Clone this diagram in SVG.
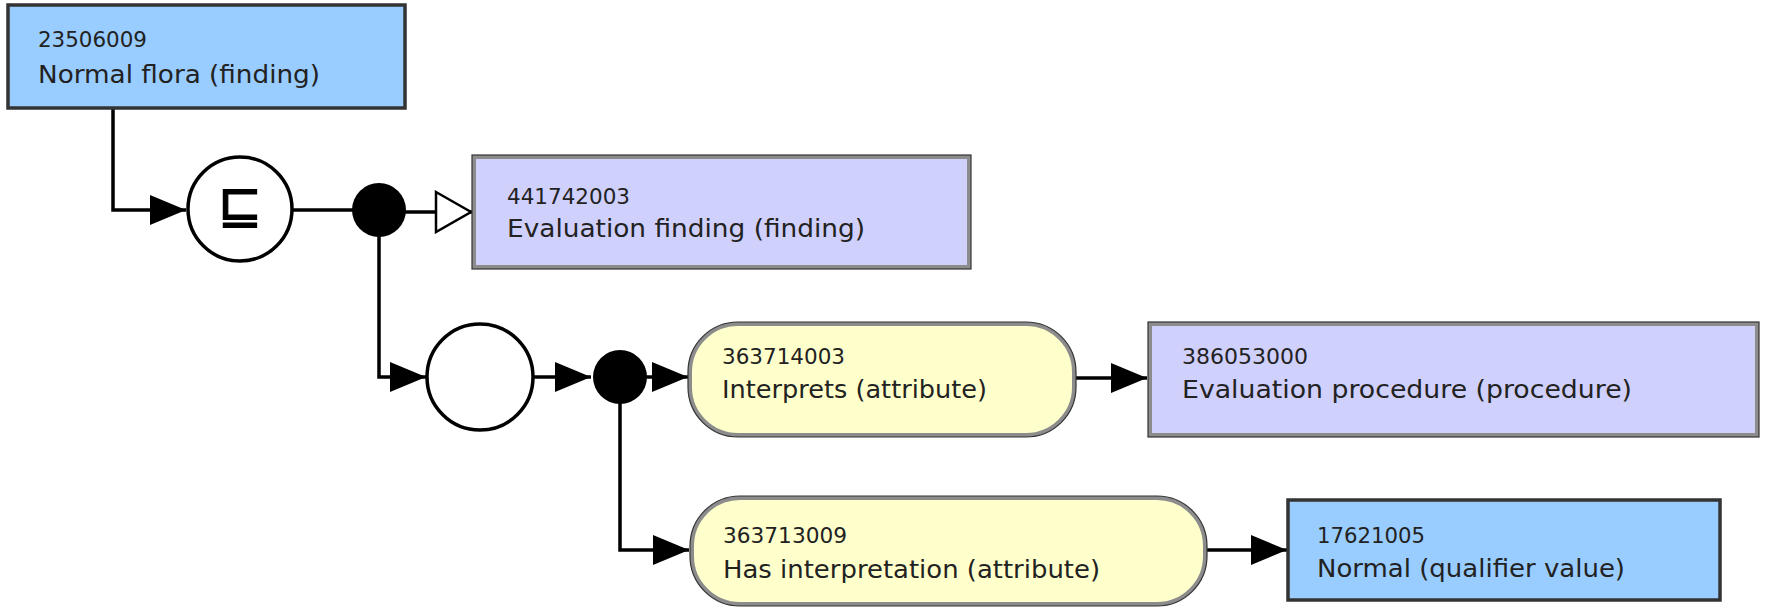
<svg xmlns="http://www.w3.org/2000/svg" width="1765" height="608" viewBox="0 0 1765 608">
<style>
  .id { font-family: "DejaVu Sans", "Liberation Sans", sans-serif; font-size: 21.5px; fill: #222; }
  .nm { font-family: "DejaVu Sans", "Liberation Sans", sans-serif; font-size: 25.5px; fill: #222; }
  .blue { fill: #99ccff; stroke: #333; stroke-width: 3.5; }
  .lav { fill: #d0d0fc; stroke: #8c8c8c; stroke-width: 4; }
  .yel { fill: #ffffcc; stroke: #8c8c8c; stroke-width: 4; }
  .outline { fill: none; stroke: #333; stroke-width: 1.2; }
  .ring { fill: #fff; stroke: #000; stroke-width: 3.5; }
  .dot { fill: #000; }
  .conn { fill: none; stroke: #000; stroke-width: 3.5; }
  .sym { font-family: "DejaVu Sans", sans-serif; font-size: 53px; fill: #000; stroke: #000; stroke-width: 1.2; }
</style>
<defs>
  <marker id="arrow" markerUnits="userSpaceOnUse" markerWidth="38" markerHeight="32" refX="36" refY="16" orient="auto" viewBox="0 0 38 32">
    <path d="M0,1 L36,16 L0,31 z" fill="#000"/>
  </marker>
  <marker id="hollow" markerUnits="userSpaceOnUse" markerWidth="40" markerHeight="44" refX="38" refY="22" orient="auto" viewBox="0 0 40 44">
    <path d="M2,2 L37,22 L2,42 z" fill="#fff" stroke="#000" stroke-width="2.5"/>
  </marker>
</defs>

<g id="connectors">
  <path class="conn" d="M113,108 V210 H186" marker-end="url(#arrow)"/>
  <path class="conn" d="M292,210 H353"/>
  <path class="conn" d="M405,212 H472" marker-end="url(#hollow)"/>
  <path class="conn" d="M379,236 V377 H426" marker-end="url(#arrow)"/>
  <path class="conn" d="M533,377 H591" marker-end="url(#arrow)"/>
  <path class="conn" d="M640,377 H688" marker-end="url(#arrow)"/>
  <path class="conn" d="M1075,378 H1147" marker-end="url(#arrow)"/>
  <path class="conn" d="M620,402 V550 H689" marker-end="url(#arrow)"/>
  <path class="conn" d="M1207,550 H1287" marker-end="url(#arrow)"/>
</g>

<g id="n23506009">
  <rect class="blue" x="8" y="5" width="397" height="103"/>
  <text class="id" x="38" y="47" textLength="109" lengthAdjust="spacingAndGlyphs">23506009</text>
  <text class="nm" x="38" y="83" textLength="282" lengthAdjust="spacingAndGlyphs">Normal flora (finding)</text>
</g>

<g id="subsumes">
  <circle class="ring" cx="240" cy="209" r="52"/>
  <text class="sym" x="240" y="223" text-anchor="middle">⊑</text>
</g>

<g id="conj1">
  <circle class="dot" cx="379" cy="210" r="27"/>
</g>

<g id="n441742003">
  <rect class="lav" x="474" y="157" width="495" height="110"/>
  <rect class="outline" x="472" y="155" width="499" height="114"/>
  <text class="id" x="507" y="204" textLength="123" lengthAdjust="spacingAndGlyphs">441742003</text>
  <text class="nm" x="507" y="237" textLength="358" lengthAdjust="spacingAndGlyphs">Evaluation finding (finding)</text>
</g>

<g id="group1">
  <circle class="ring" cx="480" cy="377" r="53"/>
</g>

<g id="conj2">
  <circle class="dot" cx="620" cy="377" r="27"/>
</g>

<g id="n363714003">
  <rect class="yel" x="690" y="324" width="384" height="111" rx="48" ry="48"/>
  <rect class="outline" x="688" y="322" width="388" height="115" rx="50" ry="50"/>
  <text class="id" x="722" y="364" textLength="123" lengthAdjust="spacingAndGlyphs">363714003</text>
  <text class="nm" x="722" y="398" textLength="265" lengthAdjust="spacingAndGlyphs">Interprets (attribute)</text>
</g>

<g id="n386053000">
  <rect class="lav" x="1150" y="324" width="607" height="111"/>
  <rect class="outline" x="1148" y="322" width="611" height="115"/>
  <text class="id" x="1182" y="364" textLength="126" lengthAdjust="spacingAndGlyphs">386053000</text>
  <text class="nm" x="1182" y="398" textLength="450" lengthAdjust="spacingAndGlyphs">Evaluation procedure (procedure)</text>
</g>

<g id="n363713009">
  <rect class="yel" x="692" y="498" width="513" height="106" rx="48" ry="48"/>
  <rect class="outline" x="690" y="496" width="517" height="110" rx="50" ry="50"/>
  <text class="id" x="723" y="543" textLength="124" lengthAdjust="spacingAndGlyphs">363713009</text>
  <text class="nm" x="723" y="578" textLength="377" lengthAdjust="spacingAndGlyphs">Has interpretation (attribute)</text>
</g>

<g id="n17621005">
  <rect class="blue" x="1288" y="500" width="432" height="100"/>
  <text class="id" x="1317" y="543" textLength="108" lengthAdjust="spacingAndGlyphs">17621005</text>
  <text class="nm" x="1317" y="577" textLength="308" lengthAdjust="spacingAndGlyphs">Normal (qualifier value)</text>
</g>
</svg>
